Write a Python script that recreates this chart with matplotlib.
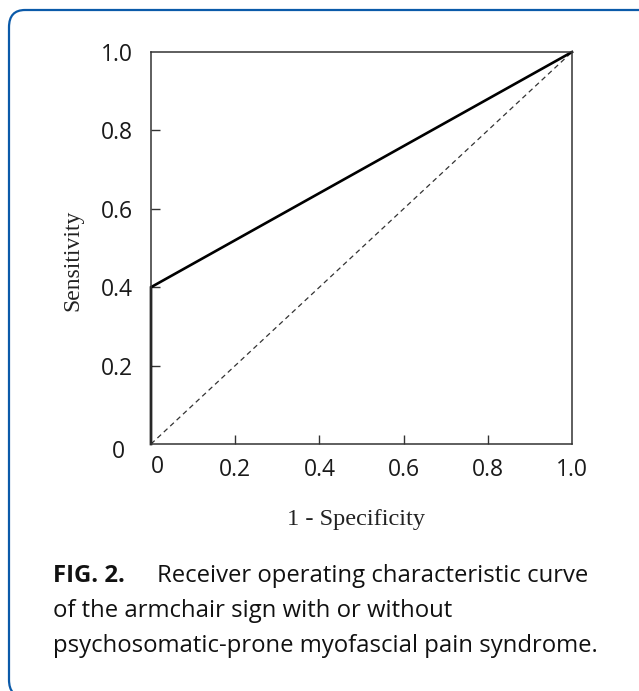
from matplotlib import pyplot as plt
from matplotlib.patches import FancyBboxPatch

W, H = 639, 691

# ROC data
roc_fpr = [0.0, 0.0, 1.0]
roc_tpr = [0.0, 0.4, 1.0]
ref_x = [0.0, 1.0]
ref_y = [0.0, 1.0]

xticks = [0.0, 0.2, 0.4, 0.6, 0.8, 1.0]
xtick_labels = ["", "0.2", "0.4", "0.6", "0.8", "1.0"]
yticks = [0.0, 0.2, 0.4, 0.6, 0.8, 1.0]
ytick_labels = ["", "0.2", "0.4", "0.6", "0.8", "1.0"]

caption_head = "FIG. 2."
caption_body = ["Receiver operating characteristic curve",
                "of the armchair sign with or without",
                "psychosomatic-prone myofascial pain syndrome."]

sans = ["Open Sans", "DejaVu Sans"]
serif = ["Liberation Serif", "DejaVu Serif"]
TICK_FS = 16.5
CAP_FS = 17.2

fig = plt.figure(figsize=(W / 100, H / 100), dpi=100)

def fx(px):
    return px / W

def fy(py):
    return 1 - py / H

# blue rounded frame, cut off at right and bottom
frame = FancyBboxPatch((fx(9), fy(697)), fx(700) - fx(9), fy(10) - fy(697),
                       boxstyle="round,pad=0,rounding_size=0.025",
                       transform=fig.transFigure, fill=False,
                       ec="#0b5aa9", lw=1.6, clip_on=False)
fig.patches.append(frame)

ax = fig.add_axes([fx(151), fy(444), fx(572) - fx(151), fy(52) - fy(444)])
ax.plot(ref_x, ref_y, c='#333333', ls=(0, (4, 3)), lw=0.9)
ax.plot(roc_fpr, roc_tpr, c='k', lw=1.9, solid_joinstyle='miter', clip_on=False)

ax.set_xlim(0, 1)
ax.set_ylim(0, 1)
for s in ax.spines.values():
    s.set_color('#333333')
    s.set_linewidth(1.1)

ax.set_xticks(xticks)
ax.set_xticklabels(xtick_labels, fontfamily=sans, fontsize=TICK_FS)
ax.set_yticks(yticks)
ax.set_yticklabels(ytick_labels, fontfamily=sans, fontsize=TICK_FS)
ax.tick_params(direction='in', length=6.5, width=1.0, color='#333333',
               labelcolor='#1a1a1a')
ax.tick_params(axis='x', pad=10)
ax.tick_params(axis='y', pad=13)
# hide ticks at the corners
for t in ax.xaxis.get_major_ticks()[::5]:
    t.tick1line.set_visible(False)
for t in ax.yaxis.get_major_ticks()[::5]:
    t.tick1line.set_visible(False)

# zero labels sit a little off the grid
fig.text(fx(157), fy(467), "0", ha='center', va='center',
         fontfamily=sans, fontsize=TICK_FS, color='#1a1a1a')
fig.text(fx(118), fy(452), "0", ha='center', va='center',
         fontfamily=sans, fontsize=TICK_FS, color='#1a1a1a')

fig.text(fx(356), fy(520), "1 - Specificity", ha='center', va='center',
         fontfamily=serif, fontsize=17.6, color='#222222')
fig.text(fx(73), fy(260), "Sensitivity", ha='center', va='center',
         rotation=90, fontfamily=serif, fontsize=17, color='#222222')

fig.text(fx(53), fy(576), caption_head, ha='left', va='center',
         fontfamily=sans, fontsize=CAP_FS, fontweight='bold', color='#111111')
fig.text(fx(157), fy(576), caption_body[0], ha='left', va='center',
         fontfamily=sans, fontsize=CAP_FS, color='#111111')
fig.text(fx(53), fy(611), caption_body[1], ha='left', va='center',
         fontfamily=sans, fontsize=CAP_FS, color='#111111')
fig.text(fx(53), fy(646), caption_body[2], ha='left', va='center',
         fontfamily=sans, fontsize=CAP_FS, color='#111111')

fig.savefig("out.png", dpi=100)
